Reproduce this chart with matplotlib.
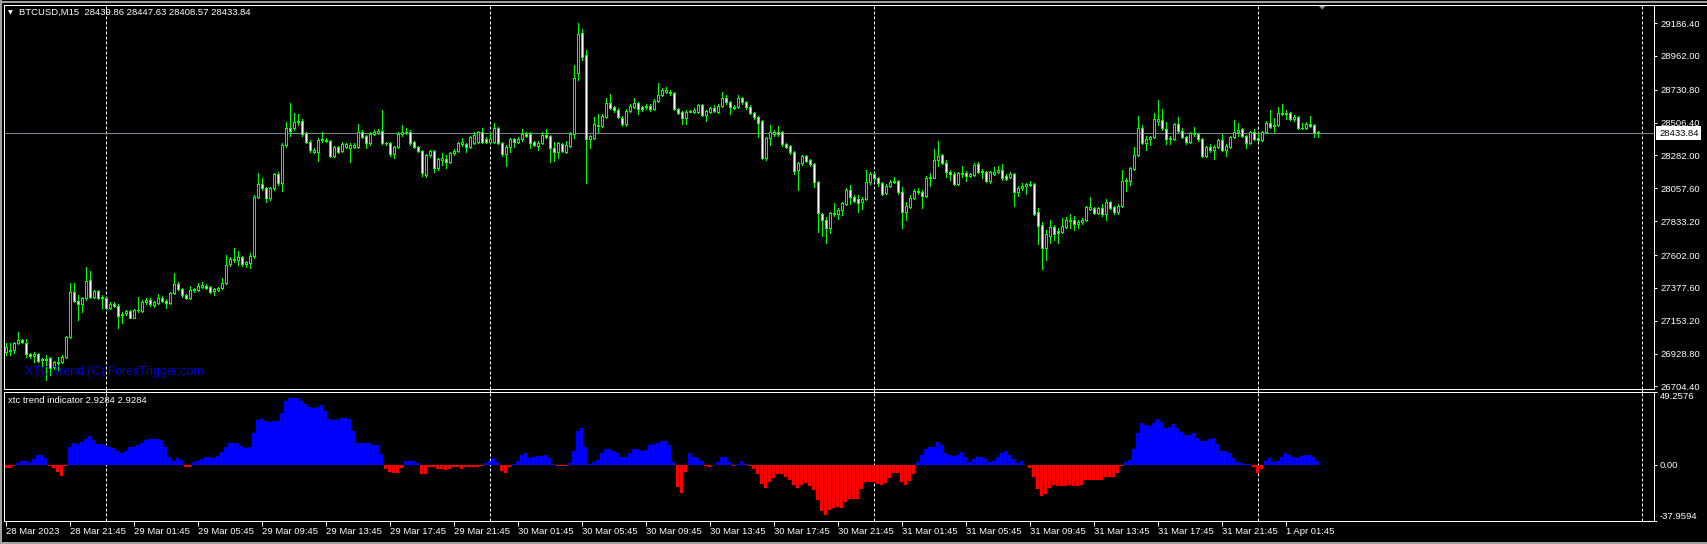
import matplotlib
matplotlib.use("Agg")
import matplotlib.pyplot as plt
from matplotlib.transforms import blended_transform_factory
from matplotlib.lines import Line2D
from matplotlib.patches import Polygon
import numpy as np

plt.rcParams['font.family'] = ['Liberation Sans', 'DejaVu Sans']

# ---------------- data (BTCUSD M15, 28 Mar 17:45 .. 1 Apr 03:45) ----------------
opens = [
26942, 26947, 26954, 26999, 27020, 26999, 26924, 26915, 26924, 26883,
26890, 26897, 26840, 26863, 26869, 26904, 27040, 27348, 27288, 27270,
27307, 27430, 27318, 27354, 27318, 27311, 27243, 27266, 27257, 27193,
27204, 27220, 27175, 27225, 27222, 27279, 27295, 27261, 27272, 27311,
27288, 27272, 27341, 27402, 27368, 27329, 27311, 27361, 27364, 27382,
27393, 27386, 27357, 27366, 27375, 27409, 27539, 27566, 27568, 27587,
27541, 27546, 27596, 27997, 28085, 28058, 27990, 28058, 28154, 28092,
28354, 28468, 28468, 28509, 28518, 28434, 28372, 28308, 28308, 28386,
28386, 28384, 28279, 28338, 28313, 28343, 28331, 28343, 28343, 28440,
28415, 28365, 28429, 28434, 28452, 28370, 28365, 28290, 28338, 28427,
28440, 28445, 28372, 28338, 28313, 28149, 28286, 28313, 28195, 28251,
28256, 28240, 28297, 28315, 28359, 28359, 28343, 28365, 28377, 28440,
28393, 28377, 28377, 28468, 28365, 28290, 28343, 28393, 28377, 28393,
28427, 28429, 28372, 28349, 28365, 28422, 28415, 28331, 28304, 28359,
28308, 28349, 28427, 28844, 29117, 28969, 28393, 28404, 28491, 28486,
28548, 28639, 28614, 28591, 28541, 28495, 28589, 28616, 28639, 28611,
28611, 28620, 28598, 28657, 28693, 28718, 28718, 28707, 28598, 28579,
28536, 28582, 28582, 28582, 28625, 28559, 28582, 28604, 28582, 28620,
28677, 28645, 28609, 28614, 28673, 28645, 28616, 28570, 28543, 28518,
28263, 28399, 28427, 28440, 28440, 28359, 28347, 28304, 28183, 28229,
28279, 28249, 28222, 28099, 27880, 27842, 27785, 27880, 27883, 27910,
27951, 28047, 28001, 27983, 27962, 27983, 28099, 28154, 28126, 28092,
28024, 28074, 28104, 28108, 28031, 27899, 27933, 27990, 28031, 28035,
28008, 28126, 28131, 28249, 28286, 28229, 28167, 28154, 28085, 28156,
28165, 28145, 28149, 28222, 28176, 28167, 28110, 28158, 28167, 28183,
28140, 28138, 28154, 28035, 28058, 28074, 28081, 28085, 27894, 27807,
27653, 27732, 27792, 27766, 27762, 27796, 27835, 27839, 27812, 27826,
27839, 27915, 27921, 27892, 27921, 27880, 27962, 27930, 27894, 27940,
28108, 28110, 28190, 28283, 28468, 28370, 28393, 28406, 28520, 28522,
28461, 28393, 28395, 28497, 28452, 28406, 28377, 28427, 28429, 28393,
28281, 28338, 28320, 28343, 28388, 28320, 28343, 28409, 28440, 28461,
28415, 28365, 28440, 28399, 28390, 28440, 28502, 28484, 28488, 28566,
28575, 28570, 28529, 28548, 28468, 28468, 28500, 28488, 28439.86]

highs = [
26999, 26999, 27011, 27074, 27029, 27029, 26935, 26938, 26931, 26901,
26920, 26908, 26878, 26908, 26920, 27052, 27409, 27409, 27329, 27318,
27518, 27493, 27361, 27361, 27329, 27318, 27284, 27279, 27266, 27216,
27229, 27229, 27232, 27318, 27295, 27311, 27307, 27288, 27334, 27322,
27302, 27348, 27482, 27420, 27380, 27338, 27393, 27380, 27409, 27416,
27402, 27393, 27380, 27384, 27443, 27603, 27591, 27653, 27630, 27598,
27562, 27614, 28012, 28165, 28131, 28069, 28069, 28160, 28172, 28365,
28509, 28639, 28570, 28563, 28532, 28445, 28388, 28331, 28399, 28440,
28399, 28390, 28345, 28349, 28377, 28370, 28365, 28365, 28497, 28456,
28422, 28445, 28456, 28461, 28591, 28377, 28372, 28345, 28440, 28491,
28468, 28454, 28381, 28347, 28322, 28295, 28322, 28322, 28267, 28297,
28286, 28308, 28327, 28377, 28399, 28368, 28418, 28445, 28450, 28468,
28411, 28445, 28502, 28477, 28372, 28354, 28404, 28404, 28411, 28463,
28440, 28440, 28381, 28381, 28440, 28463, 28422, 28372, 28377, 28368,
28381, 28445, 28900, 29185, 29146, 29003, 28422, 28548, 28566, 28563,
28677, 28702, 28623, 28604, 28552, 28600, 28632, 28673, 28650, 28623,
28632, 28632, 28668, 28775, 28741, 28752, 28730, 28714, 28607, 28586,
28591, 28595, 28604, 28632, 28632, 28595, 28614, 28627, 28632, 28714,
28696, 28655, 28627, 28696, 28682, 28655, 28627, 28582, 28552, 28527,
28409, 28491, 28456, 28481, 28450, 28368, 28354, 28313, 28240, 28286,
28286, 28258, 28231, 28108, 27892, 27864, 27899, 27956, 27926, 27962,
28058, 28081, 28012, 28012, 28001, 28183, 28172, 28163, 28135, 28104,
28085, 28115, 28135, 28117, 28067, 27967, 28012, 28053, 28058, 28044,
28140, 28160, 28327, 28381, 28295, 28254, 28181, 28167, 28167, 28208,
28176, 28163, 28229, 28236, 28190, 28176, 28176, 28206, 28210, 28224,
28154, 28172, 28160, 28072, 28094, 28097, 28108, 28094, 27926, 27826,
27773, 27842, 27807, 27785, 27853, 27864, 27880, 27871, 27839, 27853,
27940, 27999, 27930, 27930, 27953, 27985, 27971, 27940, 27953, 28183,
28126, 28204, 28340, 28552, 28491, 28413, 28418, 28573, 28661, 28600,
28513, 28413, 28504, 28545, 28468, 28418, 28445, 28477, 28438, 28402,
28347, 28363, 28354, 28397, 28431, 28359, 28418, 28522, 28504, 28472,
28425, 28450, 28463, 28434, 28450, 28518, 28591, 28536, 28614, 28632,
28593, 28577, 28559, 28554, 28504, 28509, 28550, 28500, 28447.63]

lows = [
26920, 26920, 26935, 26992, 26999, 26908, 26901, 26874, 26869, 26840,
26749, 26783, 26824, 26817, 26863, 26897, 27033, 27279, 27159, 27216,
27295, 27307, 27307, 27302, 27243, 27234, 27234, 27247, 27102, 27136,
27193, 27170, 27170, 27216, 27216, 27270, 27257, 27250, 27266, 27279,
27243, 27266, 27334, 27361, 27318, 27302, 27302, 27352, 27357, 27375,
27370, 27343, 27329, 27357, 27368, 27402, 27530, 27557, 27534, 27530,
27523, 27511, 27584, 27990, 28047, 27967, 27978, 28047, 28081, 28042,
28343, 28418, 28456, 28491, 28418, 28365, 28308, 28297, 28247, 28377,
28372, 28272, 28272, 28299, 28304, 28336, 28236, 28336, 28336, 28399,
28331, 28354, 28422, 28427, 28359, 28354, 28281, 28267, 28331, 28418,
28431, 28354, 28331, 28304, 28140, 28138, 28274, 28172, 28183, 28217,
28195, 28229, 28286, 28308, 28349, 28308, 28336, 28359, 28368, 28368,
28365, 28365, 28368, 28359, 28281, 28213, 28304, 28340, 28368, 28381,
28409, 28336, 28345, 28318, 28359, 28404, 28236, 28245, 28267, 28304,
28299, 28343, 28404, 28798, 28935, 28092, 28331, 28395, 28445, 28477,
28541, 28600, 28582, 28541, 28486, 28486, 28582, 28609, 28568, 28586,
28600, 28586, 28591, 28650, 28686, 28709, 28696, 28591, 28563, 28495,
28500, 28577, 28573, 28573, 28550, 28518, 28573, 28577, 28573, 28611,
28636, 28568, 28600, 28604, 28636, 28600, 28563, 28532, 28411, 28258,
28254, 28354, 28418, 28418, 28349, 28336, 28295, 28154, 28047, 28217,
28236, 28213, 28067, 27757, 27735, 27682, 27750, 27871, 27849, 27876,
27944, 27949, 27962, 27899, 27917, 27976, 28090, 28117, 28076, 28012,
28017, 28065, 28094, 28022, 27789, 27844, 27926, 27983, 28022, 27921,
28001, 28076, 28126, 28213, 28222, 28135, 28117, 28081, 28081, 28138,
28108, 28135, 28140, 28163, 28131, 28104, 28092, 28149, 28160, 28117,
28117, 28131, 27940, 28008, 28047, 28017, 28076, 27876, 27680, 27507,
27571, 27685, 27705, 27685, 27753, 27785, 27785, 27773, 27785, 27817,
27835, 27908, 27885, 27880, 27871, 27844, 27917, 27885, 27885, 27933,
28040, 28081, 28183, 28277, 28363, 28322, 28354, 28399, 28491, 28459,
28361, 28359, 28386, 28440, 28399, 28363, 28368, 28418, 28381, 28272,
28272, 28308, 28258, 28331, 28313, 28281, 28336, 28399, 28418, 28406,
28336, 28359, 28386, 28381, 28384, 28434, 28472, 28440, 28482, 28559,
28532, 28522, 28518, 28466, 28461, 28463, 28475, 28411, 28408.57]

closes = [
26976, 26954, 27004, 27020, 27011, 26924, 26915, 26924, 26881, 26890,
26885, 26829, 26869, 26874, 26908, 27045, 27348, 27288, 27270, 27307,
27425, 27318, 27354, 27311, 27311, 27243, 27266, 27257, 27188, 27202,
27220, 27175, 27225, 27227, 27284, 27295, 27266, 27279, 27311, 27288,
27272, 27341, 27402, 27370, 27329, 27311, 27361, 27370, 27393, 27398,
27380, 27352, 27370, 27375, 27409, 27534, 27573, 27575, 27587, 27539,
27552, 27596, 27997, 28085, 28058, 27990, 28058, 28154, 28092, 28354,
28468, 28450, 28513, 28518, 28427, 28372, 28320, 28320, 28388, 28395,
28381, 28279, 28338, 28308, 28361, 28359, 28354, 28354, 28440, 28411,
28365, 28431, 28440, 28452, 28365, 28365, 28290, 28338, 28429, 28440,
28445, 28365, 28338, 28313, 28160, 28286, 28313, 28195, 28258, 28263,
28240, 28297, 28315, 28370, 28374, 28343, 28406, 28422, 28440, 28377,
28377, 28393, 28468, 28365, 28290, 28343, 28395, 28377, 28393, 28427,
28418, 28370, 28354, 28370, 28422, 28411, 28331, 28304, 28368, 28313,
28354, 28431, 28809, 29110, 28957, 28393, 28413, 28495, 28486, 28552,
28639, 28609, 28591, 28548, 28495, 28589, 28620, 28639, 28598, 28598,
28620, 28598, 28657, 28693, 28727, 28727, 28707, 28598, 28570, 28536,
28582, 28589, 28593, 28625, 28559, 28584, 28604, 28586, 28620, 28677,
28645, 28611, 28614, 28673, 28645, 28616, 28575, 28543, 28507, 28267,
28399, 28440, 28440, 28427, 28359, 28343, 28304, 28179, 28229, 28279,
28247, 28222, 28099, 27892, 27842, 27785, 27887, 27887, 27910, 27956,
28047, 28001, 27974, 27960, 27985, 28099, 28154, 28126, 28092, 28019,
28074, 28104, 28110, 28031, 27899, 27937, 27990, 28040, 28040, 28008,
28131, 28133, 28249, 28281, 28229, 28167, 28154, 28085, 28160, 28165,
28145, 28154, 28220, 28172, 28167, 28110, 28167, 28167, 28183, 28126,
28124, 28154, 28035, 28058, 28074, 28085, 28085, 27883, 27803, 27653,
27744, 27792, 27748, 27750, 27801, 27839, 27842, 27812, 27828, 27842,
27930, 27930, 27892, 27921, 27880, 27962, 27926, 27894, 27940, 28108,
28115, 28195, 28283, 28468, 28370, 28393, 28406, 28529, 28532, 28468,
28393, 28399, 28497, 28452, 28406, 28377, 28434, 28434, 28393, 28281,
28338, 28320, 28343, 28388, 28320, 28347, 28409, 28440, 28456, 28415,
28365, 28440, 28395, 28390, 28440, 28502, 28479, 28491, 28570, 28570,
28566, 28529, 28548, 28472, 28472, 28500, 28484, 28438, 28433.84]

xtc_trend = [
-1.8, -2.2, -1.1, 1.1, 2.5, 2.5, 1.8, 3.8, 6.5, 6.5,
4.5, -1.1, -2.2, -4.7, -7.4, -0.5, 12.4, 14.6, 14.0, 15.6,
17.4, 19.2, 16.9, 14.0, 14.0, 13.7, 12.4, 11.7, 9.5, 7.9,
9.7, 11.9, 11.9, 13.3, 15.1, 16.9, 17.4, 17.4, 17.4, 16.5,
12.4, 5.0, 2.5, 4.7, 3.2, -1.6, -1.6, 1.6, 2.5, 3.8,
5.2, 5.2, 4.7, 6.3, 8.8, 11.9, 15.1, 15.1, 15.1, 12.8,
11.5, 11.9, 21.4, 30.0, 31.3, 29.7, 29.1, 29.7, 29.7, 34.9,
43.5, 45.1, 45.1, 45.5, 43.5, 41.0, 39.2, 38.3, 39.2, 40.6,
36.5, 31.3, 30.4, 30.4, 31.8, 32.0, 31.3, 22.8, 14.6, 14.6,
15.1, 15.1, 13.3, 13.3, 7.4, -2.5, -4.7, -5.6, -5.6, -2.0,
2.3, 2.9, 2.9, 1.1, -6.3, -6.3, -1.6, -1.6, -2.9, -2.9,
-3.4, -2.5, -1.6, -1.6, -2.5, -1.6, -1.4, -1.6, -1.6, -0.7,
1.1, 2.5, 4.3, 1.6, -4.3, -5.2, -1.6, 0.9, 2.9, 7.0,
8.3, 4.7, 5.6, 5.9, 5.9, 7.0, 4.3, 0.7, -0.5, -0.7,
-0.7, 1.1, 9.2, 23.0, 25.2, 12.4, 0.7, 1.6, 3.4, 7.9,
11.0, 10.6, 9.5, 7.9, 5.2, 5.2, 8.3, 11.0, 10.6, 9.2,
10.1, 13.3, 14.0, 15.1, 15.8, 16.2, 13.3, 1.6, -14.9, -19.2,
-5.0, 7.9, 5.6, 4.7, 2.9, -1.1, -1.6, -0.2, 1.6, 5.6,
5.2, 1.6, -0.9, 0.9, 2.3, 0.9, -0.5, -2.9, -6.3, -13.1,
-15.8, -11.9, -9.2, -6.3, -6.3, -7.9, -10.4, -13.7, -15.8, -13.7,
-12.4, -14.2, -16.9, -23.7, -31.1, -33.6, -30.7, -29.5, -28.8, -29.1,
-25.0, -23.2, -22.8, -22.8, -16.5, -11.5, -11.5, -11.5, -13.1, -13.7,
-12.4, -9.2, -5.2, -5.2, -11.5, -13.3, -11.0, -6.1, 1.6, 6.5,
10.6, 11.9, 12.4, 15.6, 13.7, 8.3, 6.5, 6.1, 6.5, 8.8,
5.2, 2.0, 3.8, 5.2, 5.0, 3.8, 2.0, 2.9, 5.6, 8.3,
9.2, 7.0, 3.8, 1.1, 2.5, -0.2, -2.0, -8.1, -16.0, -21.0,
-19.6, -15.6, -13.3, -14.2, -14.6, -14.2, -13.3, -14.6, -14.6, -13.3,
-10.1, -10.1, -10.1, -10.1, -10.1, -7.9, -8.3, -7.9, -5.2, -1.1,
2.0, 3.4, 10.6, 21.6, 28.4, 27.2, 26.3, 28.6, 30.9, 29.1,
25.0, 25.5, 27.3, 24.6, 21.9, 20.5, 20.5, 21.4, 18.3, 16.0,
16.0, 17.4, 18.3, 14.2, 9.7, 9.2, 7.9, 4.7, 1.6, 1.1,
0.9, 0.5, -1.6, -5.6, -2.5, 2.5, 4.3, 2.0, 2.9, 5.6,
7.9, 6.5, 5.2, 4.7, 6.1, 7.0, 7.0, 5.6, 2.9284]

time_tick_bars = [0, 16, 32, 48, 64, 80, 96, 112, 128, 144, 160, 176, 192,
                  208, 224, 240, 256, 272, 288, 304, 320]
time_tick_labels = ["28 Mar 2023", "28 Mar 21:45", "29 Mar 01:45", "29 Mar 05:45",
                    "29 Mar 09:45", "29 Mar 13:45", "29 Mar 17:45", "29 Mar 21:45",
                    "30 Mar 01:45", "30 Mar 05:45", "30 Mar 09:45", "30 Mar 13:45",
                    "30 Mar 17:45", "30 Mar 21:45", "31 Mar 01:45", "31 Mar 05:45",
                    "31 Mar 09:45", "31 Mar 13:45", "31 Mar 17:45", "31 Mar 21:45",
                    "1 Apr 01:45"]
day_separator_bars = [25, 121, 217, 313, 409]
price_ticks = [29186.40, 28962.00, 28730.80, 28506.40, 28282.00, 28057.60,
               27833.20, 27602.00, 27377.60, 27153.20, 26928.80, 26704.40]
ind_ticks = [49.2576, 0.0, -37.9594]
ind_tick_labels = ["49.2576", "0.00", "-37.9594"]
last_price = 28433.84
price_range = (26687, 29310)
ind_range = (-37.9594, 49.2576)

# ---------------- figure ----------------
W, H, DPI = 1707, 544, 100
PX = 72.0 / DPI
FS = 6.8
fig = plt.figure(figsize=(W / DPI, H / DPI), dpi=DPI, facecolor='black')


def fx(p):
    return p / W


def fy(p):
    return 1 - p / H


ax = fig.add_axes([fx(4), fy(389), fx(1654) - fx(4), fy(5) - fy(389)], facecolor='black')
ax2 = fig.add_axes([fx(4), fy(521), fx(1654) - fx(4), fy(392) - fy(521)], facecolor='black')

o = np.array(opens, float)
h = np.array(highs, float)
l = np.array(lows, float)
c = np.array(closes, float)
n = len(o)
xs = np.arange(n)
LIME = '#00ff00'

ax.vlines(xs, l, h, color=LIME, lw=PX, zorder=2, antialiased=False)
up = c >= o
lo = np.minimum(o, c)
hi = np.maximum(o, c)
ax.bar(xs, hi - lo, bottom=lo, width=0.5,
       color=np.where(up, 'black', 'white'), edgecolor=LIME,
       linewidth=PX, zorder=3, antialiased=False)

ax.axhline(last_price, color='#7b8794', lw=PX, zorder=1)

for a in (ax, ax2):
    a.set_xlim(-0.375, 412.125)
    for s in a.spines.values():
        s.set_color('white')
        s.set_linewidth(PX)
    for b in day_separator_bars:
        a.axvline(b, color='white', lw=PX, ls=(0, (3, 2)), zorder=0.5)

ax.set_ylim(*price_range)
ax.set_xticks([])
ax.yaxis.tick_right()
ax.set_yticks(price_ticks)
ax.set_yticklabels(["%.2f" % v for v in price_ticks])
ax.tick_params(axis='y', colors='white', length=3 * PX, width=PX,
               labelsize=FS, pad=2.3)

bt = blended_transform_factory(ax.transAxes, ax.transData)
ax.text((1659 - 4) / 1650.0, last_price, "%.2f" % last_price, transform=bt,
        ha='left', va='center', color='black', fontsize=FS, zorder=10,
        bbox=dict(boxstyle='square,pad=0.28', fc='white', ec='none'), clip_on=False)

# indicator
v = np.array(xtc_trend, float)
ax2.bar(xs, np.where(v > 0, v, 0), width=0.75, color='#0000ff', linewidth=0, antialiased=False)
ax2.bar(xs, np.where(v < 0, v, 0), width=0.75, color='#ff0000', linewidth=0, antialiased=False)
ax2.set_ylim(*ind_range)
ax2.yaxis.tick_right()
ax2.set_yticks(ind_ticks)
ax2.set_yticklabels(ind_tick_labels)
ax2.tick_params(axis='y', colors='white', length=3 * PX, width=PX, labelsize=FS, pad=2.0)
ticks = ax2.yaxis.get_major_ticks()
ticks[0].label2.set_va('top')
ticks[2].label2.set_va('bottom')

ax2.set_xticks(time_tick_bars)
ax2.set_xticklabels(time_tick_labels, ha='left')
ax2.tick_params(axis='x', colors='white', length=5 * PX, width=PX, labelsize=FS, pad=0.5)

# texts
fig.text(fx(8), fy(13), "\u25bc", color='white', fontsize=4.5, va='center', ha='left',
         family=['DejaVu Sans'])
fig.text(fx(19), fy(12.7), "BTCUSD,M15  28439.86 28447.63 28408.57 28433.84",
         color='white', fontsize=FS, va='center', ha='left')
fig.text(fx(8.5), fy(400.7), "xtc trend indicator 2.9284 2.9284",
         color='white', fontsize=FS, va='center', ha='left')
fig.text(fx(25), fy(372.5), "XTC Trend (C) ForexTrigger.com",
         color='#0000dd', fontsize=8.8, va='center', ha='left')

# frame details
fig.add_artist(Line2D([0, 1], [fy(1.5), fy(1.5)], transform=fig.transFigure,
                      color='#a0a0a0', lw=2 * PX))
fig.add_artist(Line2D([fx(4), 1], [fy(4.8), fy(4.8)], transform=fig.transFigure,
                      color='white', lw=PX))
fig.add_artist(Line2D([fx(1), fx(1)], [0, 1], transform=fig.transFigure,
                      color='#a0a0a0', lw=2 * PX))
fig.add_artist(Line2D([0, 1], [fy(542.5), fy(542.5)], transform=fig.transFigure,
                      color='#a0a0a0', lw=2 * PX))
sep_tr = blended_transform_factory(ax.transData, fig.transFigure)
for b in day_separator_bars:
    fig.add_artist(Line2D([b, b], [fy(389), fy(392)], transform=sep_tr,
                          color='white', lw=PX))
fig.add_artist(Polygon([[fx(1318), fy(5)], [fx(1326.5), fy(5)], [fx(1322.2), fy(9.5)]],
                       closed=True, transform=fig.transFigure, fc='#8a949e', ec='none'))

fig.savefig("out.png", dpi=DPI, facecolor='black')
